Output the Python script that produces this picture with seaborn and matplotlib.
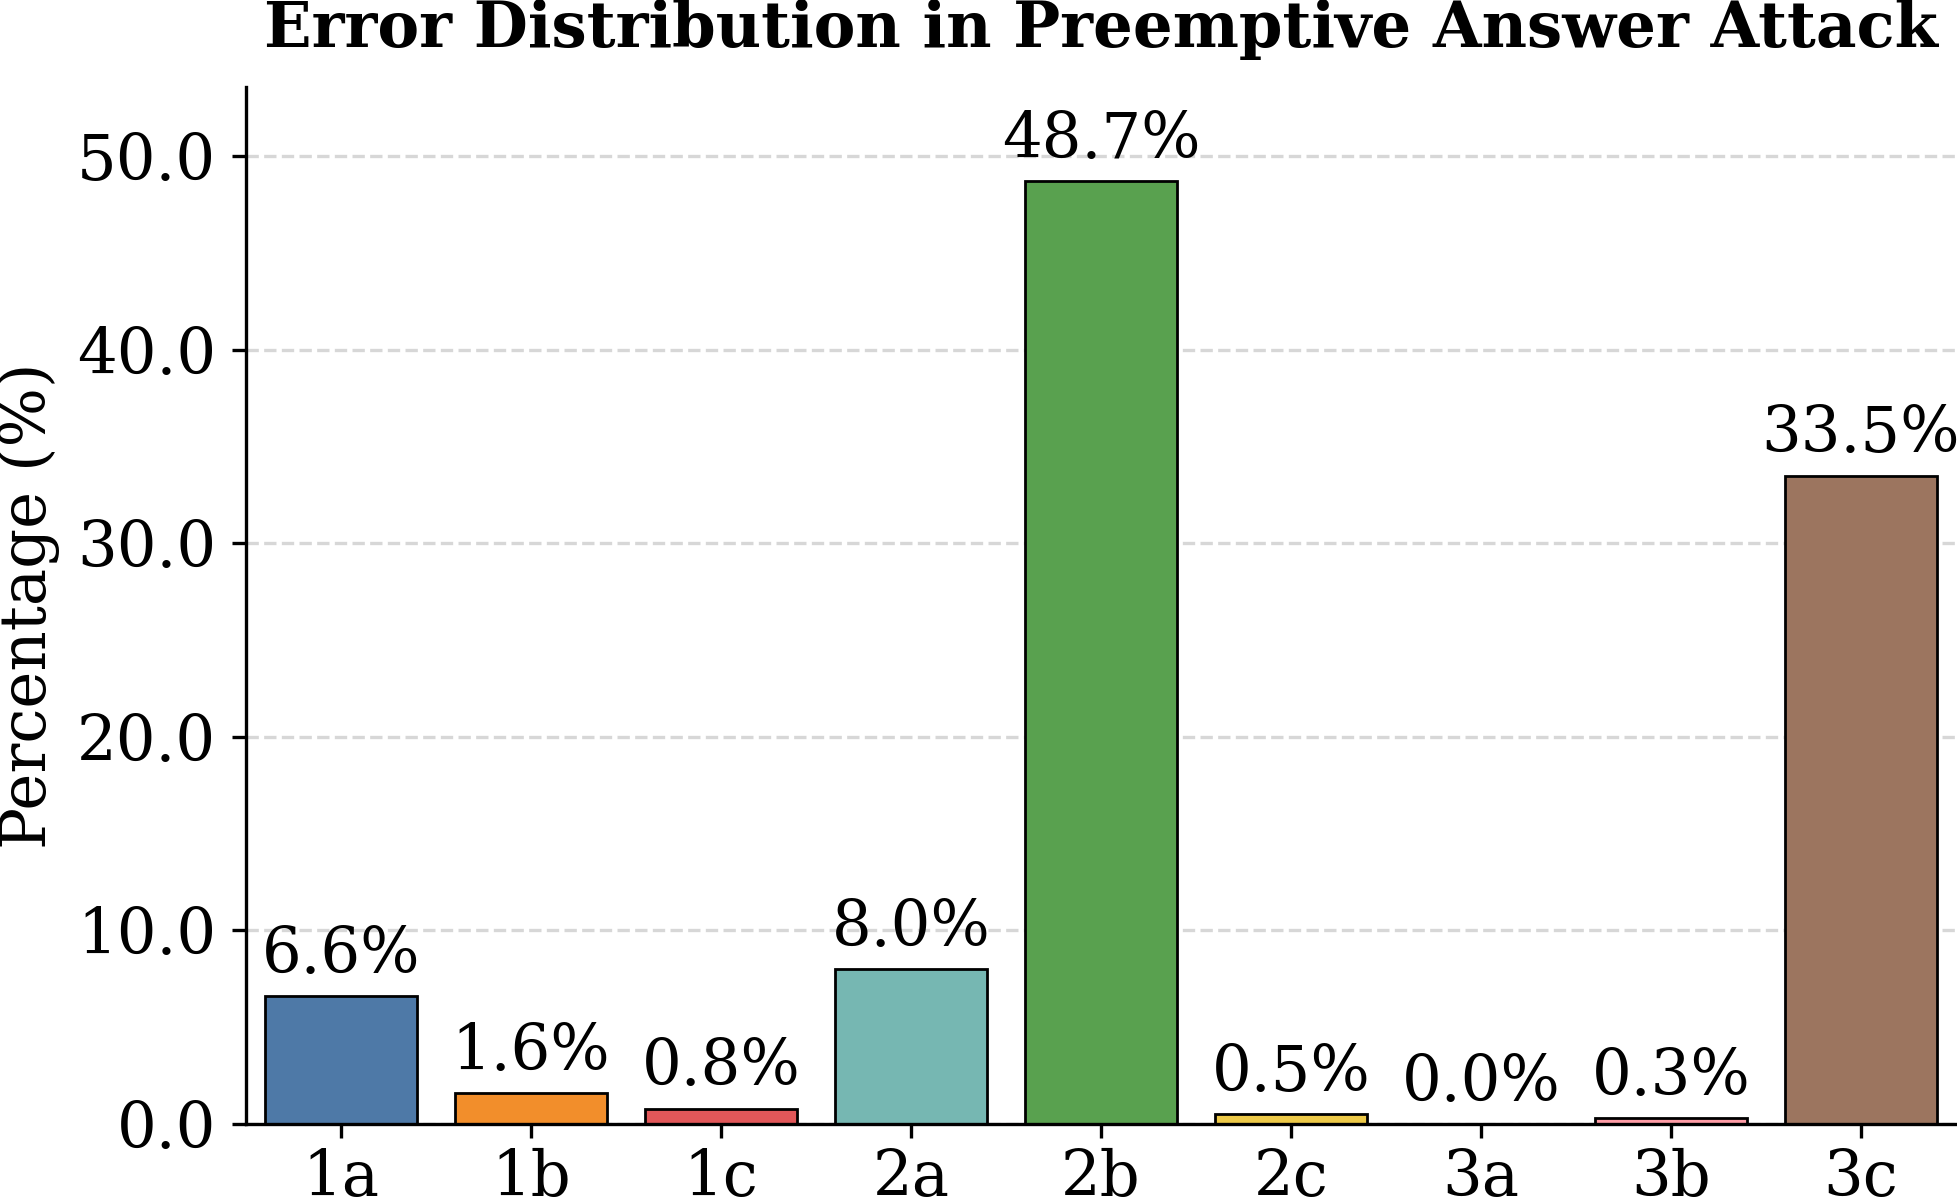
import matplotlib
matplotlib.use("Agg")
import matplotlib.pyplot as plt
import seaborn as sns
import pandas as pd
from matplotlib.ticker import FormatStrFormatter

categories = ["1a", "1b", "1c", "2a", "2b", "2c", "3a", "3b", "3c"]
values = [6.6, 1.6, 0.8, 8.0, 48.7, 0.5, 0.0, 0.3, 33.5]
colors = ["#4E79A7", "#F28E2B", "#E15759", "#76B7B2", "#59A14F",
          "#EDC948", "#B07AA1", "#FF9DA7", "#9C755F"]

sns.set_style("ticks")
plt.rcParams["font.family"] = ["DejaVu Serif"]
for k in ["text.color", "axes.labelcolor", "xtick.color", "ytick.color", "axes.edgecolor"]:
    plt.rcParams[k] = "black"

FS = 22.5

df = pd.DataFrame({"cat": categories, "val": values})

fig = plt.figure(figsize=(9.79, 6.01), dpi=200)
ax = fig.add_axes([0.1256, 0.0649, 0.8734, 0.8627])

sns.barplot(data=df, x="cat", y="val", hue="cat", palette=colors,
            legend=False, edgecolor="black", linewidth=1.0, saturation=1,
            width=0.8, ax=ax)

for c in ax.containers:
    ax.bar_label(c, fmt="%.1f%%", padding=3.75, fontsize=FS)

ax.set_ylim(0, max(values) * 1.1)
ax.set_xlim(-0.5, len(categories) - 0.5)
ax.set_yticks([0, 10, 20, 30, 40, 50])
ax.yaxis.set_major_formatter(FormatStrFormatter("%.1f"))
ax.tick_params(axis="both", labelsize=FS, length=5, width=1.2)
ax.tick_params(axis="y", pad=5.7)
ax.set_xlabel("")
ax.set_ylabel("Percentage (%)", fontsize=FS, labelpad=6)
ax.set_title("Error Distribution in Preemptive Answer Attack",
             fontsize=FS, fontweight="bold", pad=14.5)
ax.yaxis.grid(True, linestyle="--", color="lightgray", alpha=0.9, linewidth=1.2)
ax.set_axisbelow(True)
for s in ax.spines.values():
    s.set_linewidth(1.2)
sns.despine(ax=ax)

fig.savefig("out.png", dpi=200)
